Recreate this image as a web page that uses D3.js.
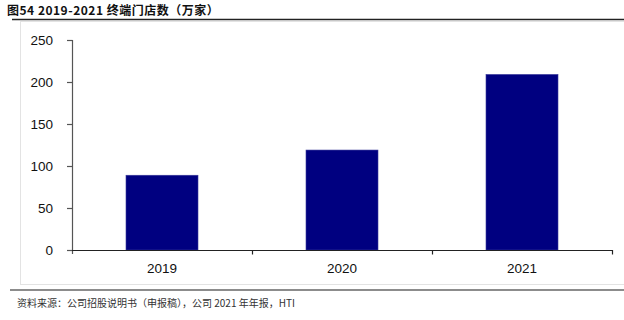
<!DOCTYPE html>
<html>
<head>
<meta charset="utf-8">
<script src="https://cdn.jsdelivr.net/npm/d3@7"></script>
<style>
  body { margin: 0; background: #fff; }
  svg { display: block; }
</style>
</head>
<body>
<svg id="chart" width="624" height="320"></svg>
<script>
// data
const years = ['2019', '2020', '2021']
const stores = [89, 119, 209]
const yTicks = [0, 50, 100, 150, 200, 250]

const title = '图54 2019-2021 终端门店数（万家）'
const source = '资料来源：公司招股说明书（申报稿），公司 2021 年年报，HTI'

const MARGINS = { top: 40, right: 12, bottom: 70, left: 72 }

const svg = d3.select('#chart')
const width = +svg.attr('width') - MARGINS.left - MARGINS.right,
  height = +svg.attr('height') - MARGINS.top - MARGINS.bottom

const cjk = '"Noto Sans CJK SC", "Noto Sans", sans-serif'

// title and rules
svg.append('text')
  .attr('x', 7).attr('y', 14.5)
  .attr('font-family', cjk)
  .attr('font-size', 12)
  .attr('font-weight', 'bold')
  .attr('letter-spacing', 0.5)
  .attr('fill', '#111')
  .text(title)

svg.append('line')
  .attr('x1', 12).attr('x2', 624).attr('y1', 19.5).attr('y2', 19.5)
  .attr('stroke', '#222').attr('stroke-width', 1.5)

// light frame around the plot
svg.append('rect')
  .attr('x', 20.5).attr('y', 21.5)
  .attr('width', 620).attr('height', 263)
  .attr('fill', 'none')
  .attr('stroke', '#e3e3e3')
  .attr('stroke-width', 1)

svg.append('line')
  .attr('x1', 10).attr('x2', 624).attr('y1', 290).attr('y2', 290)
  .attr('stroke', '#666').attr('stroke-width', 1.5)

svg.append('text')
  .attr('x', 17).attr('y', 307)
  .attr('font-family', cjk)
  .attr('font-size', 10)
  .attr('fill', '#333')
  .text(source)

const g = svg.append('g')
  .attr('transform', 'translate(' + MARGINS.left + ',' + MARGINS.top + ')')

const scaleX = d3.scaleBand()
  .domain(years)
  .range([0, width])
  .paddingInner(0.6)
  .paddingOuter(0.3)

const scaleY = d3.scaleLinear()
  .domain([0, 250])
  .range([height, 0])

g.selectAll('rect.bar')
  .data(years)
  .enter()
  .append('rect')
  .attr('class', 'bar')
  .attr('x', (d) => scaleX(d))
  .attr('width', scaleX.bandwidth())
  .attr('y', (d, i) => scaleY(stores[i]))
  .attr('height', (d, i) => height - scaleY(stores[i]))
  .attr('fill', '#000080')
  .attr('stroke', '#3a3a9a')
  .attr('stroke-width', 0.6)

// y axis
const yAxis = g.append('g')
  .call(d3.axisLeft(scaleY).tickValues(yTicks).tickSize(5).tickPadding(14))
yAxis.select('.domain').attr('d', 'M0.5,0V' + (height + 4))
yAxis.selectAll('line').attr('x1', 0.5)
yAxis.selectAll('.domain, line').attr('stroke', '#555').attr('stroke-width', 1.2)
yAxis.selectAll('text')
  .attr('font-family', 'Liberation Sans, Arial, sans-serif')
  .attr('font-size', 13.5)
  .attr('fill', '#111')

// x axis with ticks between the categories
const step = scaleX.step()
const bounds = years.map((d) => scaleX(d) + scaleX.bandwidth() / 2 + step / 2)

const xAxis = g.append('g')
  .attr('transform', 'translate(0,' + height + ')')
xAxis.append('line')
  .attr('x1', 0).attr('x2', width + 0.5)
  .attr('y1', 0.5).attr('y2', 0.5)
  .attr('stroke', '#222').attr('stroke-width', 1.2)
xAxis.selectAll('line.tick')
  .data(bounds)
  .enter()
  .append('line')
  .attr('class', 'tick')
  .attr('x1', (d) => Math.round(d) + 0.5)
  .attr('x2', (d) => Math.round(d) + 0.5)
  .attr('y1', 0).attr('y2', 4.5)
  .attr('stroke', '#222').attr('stroke-width', 1.2)
xAxis.selectAll('text')
  .data(years)
  .enter()
  .append('text')
  .attr('x', (d) => scaleX(d) + scaleX.bandwidth() / 2)
  .attr('y', 23)
  .attr('text-anchor', 'middle')
  .attr('font-family', 'Liberation Sans, Arial, sans-serif')
  .attr('font-size', 13.5)
  .attr('fill', '#111')
  .text((d) => d)
</script>
</body>
</html>
